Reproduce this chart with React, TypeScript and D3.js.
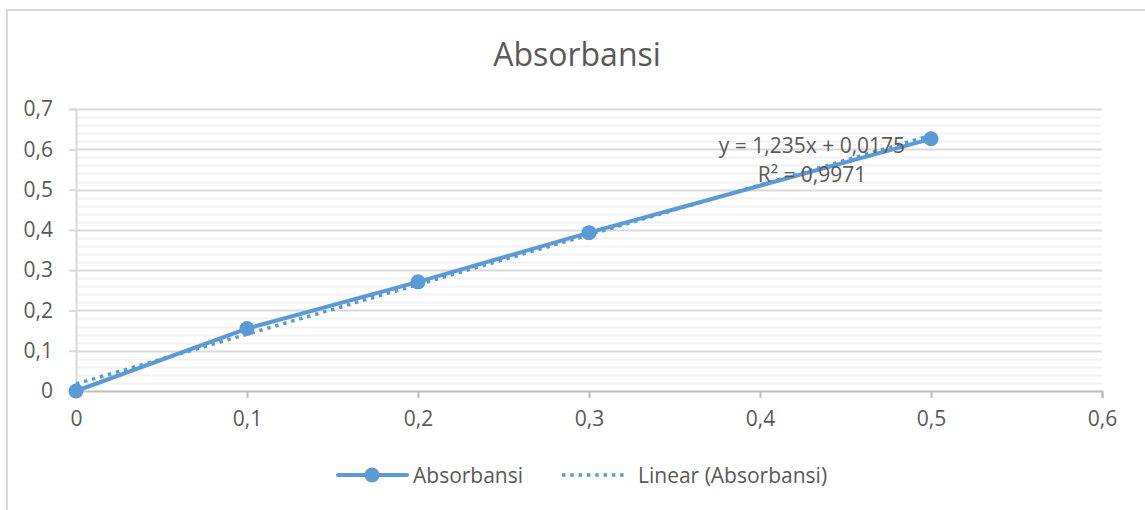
import React, { useEffect, useRef } from 'react';
import * as d3 from 'd3';

const concentrations = [0, 0.1, 0.2, 0.3, 0.5];
const absorbance = [0, 0.155, 0.271, 0.393, 0.626];
const xTicks = [0, 0.1, 0.2, 0.3, 0.4, 0.5, 0.6];
const yTicks = [0, 0.1, 0.2, 0.3, 0.4, 0.5, 0.6, 0.7];
const equationLabel = 'y = 1,235x + 0,0175';
const r2Label = 'R² = 0,9971';
const title = 'Absorbansi';
const seriesName = 'Absorbansi';
const trendName = 'Linear (Absorbansi)';

const FONT = '"Open Sans", "Segoe UI", Calibri, sans-serif';
const BLUE = '#5B9BD5';
const TEXT = '#595959';

const App = () => {
    const svgRef = useRef<SVGSVGElement>(null);

    useEffect(() => {
        const W = 1145, H = 510;
        const margin = { top: 109, right: 43, bottom: 119, left: 76 };
        const width = W - margin.left - margin.right;
        const height = H - margin.top - margin.bottom;

        const svg = d3.select(svgRef.current).attr('width', W).attr('height', H).html('');

        // chart border
        svg.append('rect')
            .attr('x', 7).attr('y', 10).attr('width', W + 10).attr('height', H + 10)
            .attr('fill', '#fff').attr('stroke', '#d9d9d9').attr('stroke-width', 2);

        svg.append('text')
            .attr('x', 577).attr('y', 66)
            .attr('text-anchor', 'middle')
            .style('font-family', FONT).style('font-size', '32px')
            .attr('fill', TEXT)
            .text(title);

        const g = svg.append('g').attr('transform', `translate(${margin.left},${margin.top})`);

        const x = d3.scaleLinear().domain([0, 0.6]).range([0, width]);
        const y = d3.scaleLinear().domain([0, 0.7]).range([height, 0]);
        const fmt = (d: number) => String(d).replace('.', ',');

        // minor gridlines
        const minor = d3.range(0, 0.7001, 0.02).filter(v => Math.abs(v * 10 - Math.round(v * 10)) > 1e-6);
        g.append('g').selectAll('line').data(minor).enter().append('line')
            .attr('x1', 0).attr('x2', width)
            .attr('y1', d => Math.round(y(d)) + 0.5).attr('y2', d => Math.round(y(d)) + 0.5)
            .attr('stroke', '#f2f2f2').attr('stroke-width', 2);

        // major gridlines
        g.append('g').selectAll('line').data(yTicks.slice(1)).enter().append('line')
            .attr('x1', 0).attr('x2', width)
            .attr('y1', d => Math.round(y(d)) + 0.5).attr('y2', d => Math.round(y(d)) + 0.5)
            .attr('stroke', '#d9d9d9').attr('stroke-width', 2);

        const yAxis = g.append('g')
            .call(d3.axisLeft(y).tickValues(yTicks).tickSize(7).tickPadding(16).tickFormat(d => fmt(d as number)));
        yAxis.select('.domain').attr('stroke', '#d9d9d9').attr('stroke-width', 2);
        yAxis.selectAll('.tick line').attr('stroke', '#d9d9d9').attr('stroke-width', 2);
        yAxis.selectAll('text').attr('fill', TEXT).style('font-family', FONT).style('font-size', '21px');

        const xAxis = g.append('g')
            .attr('transform', `translate(0,${height})`)
            .call(d3.axisBottom(x).tickValues(xTicks).tickSize(7).tickPadding(13).tickFormat(d => fmt(d as number)));
        xAxis.select('.domain').attr('stroke', '#bfbfbf').attr('stroke-width', 2);
        xAxis.selectAll('.tick line').attr('stroke', '#bfbfbf').attr('stroke-width', 2);
        xAxis.selectAll('text').attr('fill', TEXT).style('font-family', FONT).style('font-size', '21px');

        const pts = concentrations.map((c, i) => ({ c, a: absorbance[i] }));

        // least squares trendline from the data
        const mx = d3.mean(concentrations) as number;
        const my = d3.mean(absorbance) as number;
        const slope = d3.sum(pts, p => (p.c - mx) * (p.a - my)) / d3.sum(pts, p => (p.c - mx) ** 2);
        const icpt = my - slope * mx;
        const xr = d3.extent(concentrations) as [number, number];

        const line = d3.line<{ c: number; a: number }>().x(d => x(d.c)).y(d => y(d.a));

        g.append('path')
            .datum(pts)
            .attr('d', line)
            .attr('fill', 'none').attr('stroke', BLUE).attr('stroke-width', 4)
            .attr('stroke-linejoin', 'round').attr('stroke-linecap', 'round');

        g.append('line')
            .attr('x1', x(xr[0])).attr('y1', y(icpt + slope * xr[0]))
            .attr('x2', x(xr[1])).attr('y2', y(icpt + slope * xr[1]))
            .attr('stroke', BLUE).attr('stroke-width', 3.5)
            .attr('stroke-dasharray', '3.5 4.8');

        g.selectAll('.pt').data(pts).enter().append('circle')
            .attr('class', 'pt')
            .attr('cx', d => x(d.c)).attr('cy', d => y(d.a)).attr('r', 7.5)
            .attr('fill', BLUE);

        svg.append('text')
            .attr('x', 812).attr('y', 153).attr('text-anchor', 'middle')
            .style('font-family', FONT).style('font-size', '21px').attr('fill', TEXT)
            .text(equationLabel);
        svg.append('text')
            .attr('x', 812).attr('y', 182).attr('text-anchor', 'middle')
            .style('font-family', FONT).style('font-size', '21px').attr('fill', TEXT)
            .text(r2Label);

        // legend
        const lg = svg.append('g').attr('transform', 'translate(0,475)');
        lg.append('line').attr('x1', 338).attr('x2', 407).attr('y1', 0).attr('y2', 0)
            .attr('stroke', BLUE).attr('stroke-width', 4).attr('stroke-linecap', 'round');
        lg.append('circle').attr('cx', 372).attr('cy', 0).attr('r', 7.5).attr('fill', BLUE);
        lg.append('text').attr('x', 413).attr('y', 8)
            .style('font-family', FONT).style('font-size', '21px').attr('fill', TEXT)
            .text(seriesName);
        lg.append('line').attr('x1', 562).attr('x2', 628).attr('y1', 0).attr('y2', 0)
            .attr('stroke', BLUE).attr('stroke-width', 3.5).attr('stroke-dasharray', '3.5 4.8');
        lg.append('text').attr('x', 638).attr('y', 8)
            .style('font-family', FONT).style('font-size', '21px').attr('fill', TEXT)
            .text(trendName);
    }, []);

    return (
        <div style={{ position: 'fixed', left: 0, top: 0 }}>
            <svg ref={svgRef} style={{ display: 'block' }} />
        </div>
    );
};

export default App;
